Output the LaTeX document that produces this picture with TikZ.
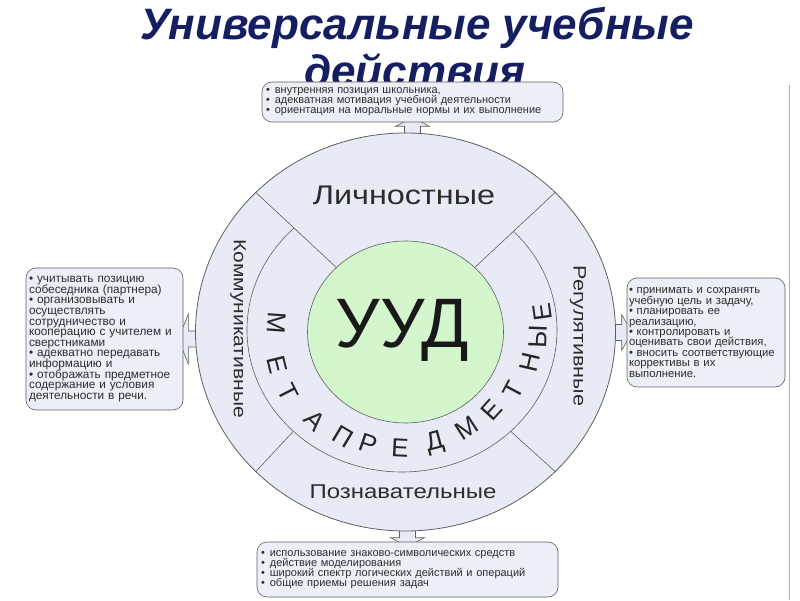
\documentclass[tikz,border=0pt]{standalone}
\usepackage{fontspec}
\setmainfont{Liberation Sans}
\newfontfamily\widesans[FakeStretch=1.2]{Liberation Sans}
\usepackage{xcolor}
\usepackage{tikz}
\usetikzlibrary{shapes.geometric, arrows.meta, positioning, calc, backgrounds}
\definecolor{ringfill}{RGB}{232,235,246}
\definecolor{boxfill}{RGB}{237,239,248}
\definecolor{uudgreen}{RGB}{212,246,204}
\definecolor{linegray}{RGB}{95,95,95}
\definecolor{textgray}{RGB}{45,45,45}
\definecolor{titlenavy}{RGB}{20,30,96}
\definecolor{edgegray}{RGB}{175,175,175}
\newcommand{\tightlines}{\lineskiplimit=-100pt}
\tikzstyle{infobox}    = [rectangle, draw=linegray, fill=boxfill, rounded corners=10pt,
                          align=left, text=textgray, inner xsep=4pt, inner ysep=0pt,
                          line width=0.6pt]
\tikzstyle{ringlabel}  = [text=textgray, inner sep=0pt]
\tikzstyle{ringline}   = [draw=linegray, line width=0.6pt]
\tikzstyle{blockarrow} = [draw=linegray, fill=ringfill, line width=0.6pt, line join=miter]
\tikzstyle{metaletter} = [font=\fontsize{26}{26}\selectfont, text=black!85, inner sep=0pt]

\begin{document}
\begin{tikzpicture}[x=1pt, y=1pt]
  \useasboundingbox (0,0) rectangle (800,600);

  % title, partly hidden by the upper box
  \node[font=\fontsize{44}{44}\selectfont\bfseries\itshape, text=titlenavy, anchor=base]
    (title1) at (417,560) {Универсальные учебные};
  \node[font=\fontsize{44}{44}\selectfont\bfseries\itshape, text=titlenavy, anchor=base]
    (title2) at (415,513) {действия};

  % the big wheel
  \node[ellipse, draw=linegray, fill=ringfill, line width=0.8pt, minimum width=420pt,
        minimum height=398pt, inner sep=0pt] (ring) at (405.5,268) {};
  \node[ellipse, minimum width=310pt, minimum height=284pt, inner sep=0pt, outer sep=0pt]
    (meta) at (402,270) {};

  \draw[ringline] (ring.137) -- (ring.center);
  \draw[ringline] (ring.43) -- (ring.center);
  \draw[ringline] (ring.223) -- (meta.223);
  \draw[ringline] (ring.317) -- (meta.317);
  \begin{scope}
    \clip (ring.center) -- ($(ring.center)+(137:300)$) -- ++(0,-500) -- ++(450,0)
      -- ($(ring.center)+(43:300)$) -- cycle;
    \draw[ringline] (meta.center) ellipse [x radius=155, y radius=142];
  \end{scope}

  \node[ellipse, draw=linegray, fill=uudgreen, line width=0.6pt, minimum width=196pt,
        minimum height=182pt, inner sep=0pt] (uud) at (ring.center) {};
  \node[font=\fontsize{70}{70}\selectfont, text=black!90, anchor=base] (uudlabel) at (402.5,252) {УУД};

  \node[ringlabel, font=\widesans\fontsize{27}{27}\selectfont, anchor=base] (lichlabel) at (404,395) {Личностные};
  \node[ringlabel, font=\widesans\fontsize{20}{20}\selectfont, anchor=base] (poznlabel) at (403,102) {Познавательные};
  \node[ringlabel, font=\widesans\fontsize{17.5}{17.5}\selectfont, rotate=-90] (kommlabel) at (238,271.5) {Коммуникативные};
  \node[ringlabel, font=\widesans\fontsize{18}{18}\selectfont, rotate=-90] (reglabel) at (578,264) {Регулятивные};

  % letters round the green centre
  \foreach \ch/\x/\y/\rot [count=\i] in {М/277/277/266, Е/277/235/284, Т/288/207/297,
      А/315/179/314, П/343/163/329, Р/368/156/341, Е/400/152/357, Д/435/157/375,
      М/467/172/393, Е/492/190/408, Т/513/210/422, Н/530/238/437, Ы/538/263/448, Е/542/288/458}
    \node[metaletter, rotate=\rot] (ml\i) at (\x,\y) {\ch};

  % the four boxes
  \node[infobox, text width=293pt, minimum height=40pt, font=\fontsize{11}{10}\selectfont\tightlines]
    (lichbox) at (412.5,498) {•\hspace{5pt}внутренняя позиция школьника,\\
      •\hspace{5pt}адекватная мотивация учебной деятельности\\
      •\hspace{5pt}ориентация на моральные нормы и их выполнение};
  \node[infobox, text width=151pt, minimum height=142pt, inner xsep=3pt,
        font=\fontsize{11.8}{10.6}\selectfont\tightlines]
    (kommbox) at (104.5,261) {• учитывать позицию\\ собеседника (партнера)\\
      • организовывать и\\ осуществлять\\ сотрудничество и\\ кооперацию с учителем и\\
      сверстниками\\ • адекватно передавать\\ информацию и\\ • отображать предметное\\
      содержание и условия\\ деятельности в речи.};
  \node[infobox, text width=154pt, minimum height=109pt, inner xsep=2pt,
        font=\fontsize{11.3}{10.4}\selectfont\tightlines]
    (regbox) at (706,267.5) {• принимать и сохранять\\ учебную цель и задачу,\\
      • планировать ее\\ реализацию,\\ • контролировать и\\ оценивать свои действия,\\
      • вносить соответствующие\\ коррективы в их\\ выполнение.};
  \node[infobox, text width=293pt, minimum height=55pt, font=\fontsize{11}{10}\selectfont\tightlines]
    (poznbox) at (407.5,30.5) {•\hspace{5pt}использование знаково-символических средств\\
      •\hspace{5pt}действие моделирования\\
      •\hspace{5pt}широкий спектр логических действий и операций\\
      •\hspace{5pt}общие приемы решения задач};

  \draw[edgegray, line width=0.8pt] (789,515) -- (789,0);

  % block arrows, tucked under the wheel and the boxes
  \begin{scope}[on background layer]
    \draw[blockarrow] ($(ring.north -| lichbox.south)+(-8,-8)$) -- ($(lichbox.south)+(-8,-4)$)
      -- ++(-9,0) -- ($(lichbox.south)+(0,5)$) -- ($(lichbox.south)+(17,-4)$) -- ++(-9,0)
      -- ($(ring.north -| lichbox.south)+(8,-8)$) -- cycle;
    \draw[blockarrow] ($(ring.west |- kommbox.east)+(10,8)$) -- ($(kommbox.east)+(5,8)$)
      -- ++(0,17) -- ($(kommbox.east)+(-5,0)$) -- ($(kommbox.east)+(5,-25)$) -- ++(0,17)
      -- ($(ring.west |- kommbox.east)+(10,-8)$) -- cycle;
    \draw[blockarrow] ($(ring.east |- regbox.west)+(-10,-8)$) -- ($(regbox.west)+(-5,-8)$)
      -- ++(0,-10) -- ($(regbox.west)+(5,0)$) -- ($(regbox.west)+(-5,18)$) -- ++(0,-10)
      -- ($(ring.east |- regbox.west)+(-10,8)$) -- cycle;
    \draw[blockarrow] ($(ring.south -| poznbox.north)+(-8,8)$) -- ($(poznbox.north)+(-8,4)$)
      -- ++(-9,0) -- ($(poznbox.north)+(0,-5)$) -- ($(poznbox.north)+(17,4)$) -- ++(-9,0)
      -- ($(ring.south -| poznbox.north)+(8,8)$) -- cycle;
  \end{scope}
\end{tikzpicture}
\end{document}
